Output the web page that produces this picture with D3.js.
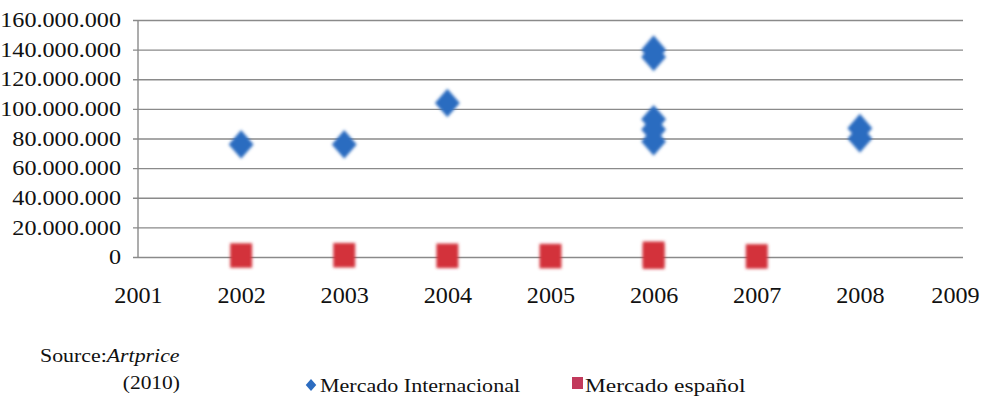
<!DOCTYPE html>
<html>
<head>
<meta charset="utf-8">
<script src="https://cdn.jsdelivr.net/npm/d3@7"></script>
<style>
  html, body { margin: 0; padding: 0; background: #fff; }
  svg { display: block; }
  svg text { font-family: "Liberation Serif", "Times New Roman", Tinos, "DejaVu Serif", serif !important; fill: #111; }
</style>
</head>
<body>
<svg id="chart" width="987" height="397"></svg>
<script>
// Top auction prices per year (euros)
const yearTicks = [2001, 2002, 2003, 2004, 2005, 2006, 2007, 2008, 2009];
const valueTicks = [0, 20e6, 40e6, 60e6, 80e6, 100e6, 120e6, 140e6, 160e6];

const intlYears  = [2002, 2003, 2004, 2006, 2006, 2006, 2006, 2006, 2008, 2008];
const intlValues = [76e6, 76e6, 104e6, 140e6, 135e6, 93e6, 86e6, 78e6, 87e6, 80e6];

const spainYears  = [2002, 2003, 2004, 2005, 2006, 2006, 2007];
const spainValues = [1.0e6, 1.2e6, 0.8e6, 0.6e6, 0.2e6, 2.2e6, 0.4e6];

const seriesNames = ["Mercado Internacional", "Mercado español"];
const colors = { intl: "#2c6cc0", spain: "#d3303b", spainKey: "#c23a5c" };

const svg = d3.select("#chart");
const margin = { left: 138, right: 24, top: 20, bottom: 140 };
const W = 987, H = 397;

const x = d3.scaleLinear().domain([2001, 2009]).range([margin.left, W - margin.right]);
const y = d3.scaleLinear().domain([0, 160e6]).range([H - margin.bottom, margin.top]);

const fmt = v => v === 0 ? "0" : d3.format(",")(v).replace(/,/g, ".");
const serif = '"Liberation Serif", "Times New Roman", Tinos, "DejaVu Serif", serif';

// widen text horizontally by factor k
function stretch(sel, k) {
  sel.each(function () {
    const L = this.getComputedTextLength();
    d3.select(this).attr("textLength", L * k).attr("lengthAdjust", "spacingAndGlyphs");
  });
}

// soft blur for the markers
const defs = svg.append("defs");
const f = defs.append("filter").attr("id", "soft").attr("x", "-50%").attr("y", "-50%").attr("width", "200%").attr("height", "200%");
f.append("feGaussianBlur").attr("stdDeviation", 1.5);

// Horizontal gridlines + y axis
const yAxis = d3.axisLeft(y).tickValues(valueTicks).tickFormat(fmt)
  .tickSize(-(W - margin.left - margin.right)).tickPadding(17);
const gy = svg.append("g").attr("transform", `translate(${margin.left},0)`).call(yAxis)
  .attr("font-family", null).attr("font-size", null);
gy.select(".domain").remove();
gy.selectAll(".tick line").attr("stroke", "#8a8a8a").attr("stroke-width", 1.4).attr("x1", -5);
gy.selectAll(".tick text").style("font-size", "21px").style("font-family", serif).attr("fill", "#111")
  .call(stretch, 1.15);
// vertical axis line
svg.append("line").attr("x1", margin.left).attr("x2", margin.left)
  .attr("y1", y(160e6)).attr("y2", y(0)).attr("stroke", "#8a8a8a").attr("stroke-width", 1.4);

// x axis labels
const xAxis = d3.axisBottom(x).tickValues(yearTicks).tickFormat(d3.format("d")).tickSize(0).tickPadding(30);
const gx = svg.append("g").attr("transform", `translate(0,${y(0)})`).call(xAxis)
  .attr("font-family", null).attr("font-size", null);
gx.select(".domain").remove();
gx.selectAll(".tick text").style("font-size", "23px").style("font-family", serif).attr("fill", "#111")
  .call(stretch, 1.05);
gx.selectAll(".tick text").filter(d => d === 2009).attr("dx", -8);

// custom marker shapes
const diamond = {
  draw(ctx, size) {
    const w = Math.sqrt(size) * 0.5, h = w * 1.15;
    ctx.moveTo(0, -h); ctx.lineTo(w, 0); ctx.lineTo(0, h); ctx.lineTo(-w, 0); ctx.closePath();
  }
};
const rect = {
  draw(ctx, size) {
    const w = Math.sqrt(size) * 0.5, h = w * 1.12;
    ctx.rect(-w, -h, 2 * w, 2 * h);
  }
};

// Spanish market squares
svg.append("g").attr("filter", "url(#soft)").selectAll("path")
  .data(spainYears.map((yr, i) => ({ yr, v: spainValues[i] })))
  .join("path")
  .attr("d", d3.symbol().type(rect).size(480))
  .attr("transform", d => `translate(${x(d.yr)},${y(d.v)})`)
  .attr("fill", colors.spain);

// International market diamonds
svg.append("g").attr("filter", "url(#soft)").selectAll("path")
  .data(intlYears.map((yr, i) => ({ yr, v: intlValues[i] })))
  .join("path")
  .attr("d", d3.symbol().type(diamond).size(620))
  .attr("transform", d => `translate(${x(d.yr)},${y(d.v)})`)
  .attr("fill", colors.intl);

// Source note
const src = svg.append("text").attr("x", 40).attr("y", 362).style("font-size", "19px").style("font-family", serif);
src.append("tspan").text("Source:");
src.append("tspan").style("font-style", "italic").text("Artprice");
src.call(stretch, 1.15);
svg.append("text").attr("x", 180).attr("y", 389).attr("text-anchor", "end")
  .style("font-size", "19px").style("font-family", serif).text("(2010)")
  .call(stretch, 1.13);

// Legend
const lg = svg.append("g");
lg.append("path").attr("d", d3.symbol().type(diamond).size(110))
  .attr("transform", "translate(311,385)").attr("fill", colors.intl);
lg.append("text").attr("x", 320).attr("y", 392).style("font-size", "19.5px").style("font-family", serif)
  .text(seriesNames[0]).call(stretch, 1.13);
lg.append("rect").attr("x", 572).attr("y", 377).attr("width", 11).attr("height", 12).attr("fill", colors.spainKey);
lg.append("text").attr("x", 585).attr("y", 392).style("font-size", "19.5px").style("font-family", serif)
  .text(seriesNames[1]).call(stretch, 1.2);
</script>
</body>
</html>
